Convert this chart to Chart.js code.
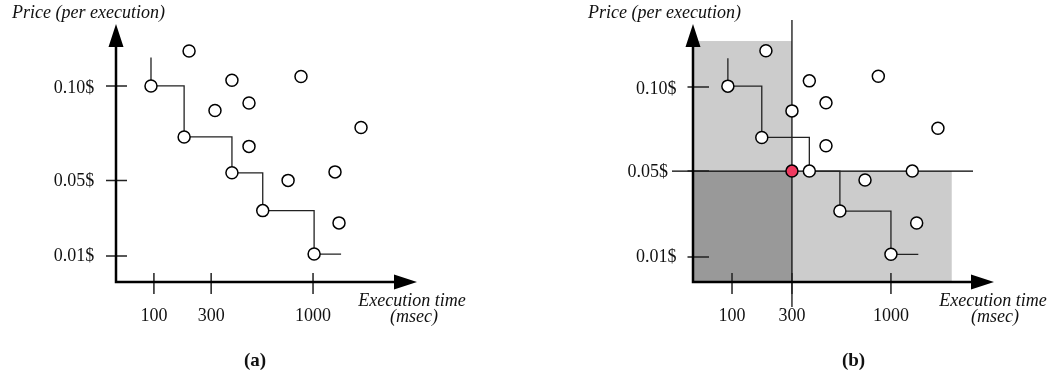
<!DOCTYPE html>
<html>
<head>
<meta charset="utf-8">
<script src="https://cdn.jsdelivr.net/npm/chart.js@4.4.1/dist/chart.umd.min.js"></script>
<style>
  html, body { margin: 0; padding: 0; background: #fff; }
  #wrap { position: relative; width: 1052px; height: 374px; overflow: hidden; }
  canvas { position: absolute; top: 0; }
  #chartA { left: 0; }
  #chartB { left: 577px; }
</style>
</head>
<body>
<div id="wrap">
  <canvas id="chartA" width="577" height="374"></canvas>
  <canvas id="chartB" width="475" height="374"></canvas>
</div>
<script>
// ---------- shared axis text ----------
const xTickValues = [100, 300, 1000];
const xTickLabels = ['100', '300', '1000'];
const yTickValues = [0.10, 0.05, 0.01];
const yTickLabels = ['0.10$', '0.05$', '0.01$'];
const yAxisTitle = 'Price (per execution)';
const xAxisTitle = ['Execution time', '(msec)'];

// ---------- panel (a): all candidate configurations ----------
const timesA  = [208, 405, 892, 318, 505, 1504, 505, 1216, 784, 1258];
const pricesA = [0.1185, 0.103, 0.105, 0.087, 0.091, 0.078, 0.068, 0.0545, 0.050, 0.0275];
// Pareto-optimal configurations (staircase)
const paretoTimesA  = [93, 190, 405, 595, 1010];
const paretoPricesA = [0.100, 0.073, 0.054, 0.034, 0.011];
const stairStartPriceA = 0.115;
const stairEndTimeA = 1280;

// ---------- panel (b): same set, with a chosen deadline / budget ----------
const timesB  = [196, 386, 880, 300, 482, 1538, 482, 1226, 764, 1276];
const pricesB = [0.124, 0.104, 0.107, 0.085, 0.090, 0.0744, 0.0642, 0.050, 0.0452, 0.024];
const paretoTimesB  = [91, 182, 386, 573, 1000];
const paretoPricesB = [0.1006, 0.069, 0.050, 0.0296, 0.011];
const stairStartPriceB = 0.119;
const stairEndTimeB = 1295;
const pickTimes  = [300];
const pickPrices = [0.05];
const shadeTimeLimit  = 1725;
const shadePriceLimit = 0.1306;

// ---------- a power (x^k) axis ----------
class PowerScale extends Chart.LinearScale {
  _pw(v) { return Math.pow(v, this.options.exponent ?? 1); }
  getPixelForValue(value) {
    if (value === null || value === undefined) return NaN;
    const lo = this._pw(this.min), hi = this._pw(this.max);
    return this.getPixelForDecimal((this._pw(value) - lo) / (hi - lo));
  }
  getValueForPixel(pixel) {
    const k = this.options.exponent ?? 1;
    const lo = this._pw(this.min), hi = this._pw(this.max);
    return Math.pow(lo + this.getDecimalForPixel(pixel) * (hi - lo), 1 / k);
  }
}
PowerScale.id = 'power';
PowerScale.defaults = Chart.LinearScale.defaults;
Chart.register(PowerScale);

const FONT = "'Liberation Serif', 'Times New Roman', serif";
const INK = '#111';

// the axes keep exactly the box given by the layout padding
function noScalePadding(s) {
  s.paddingTop = 0; s.paddingBottom = 0; s.paddingLeft = 0; s.paddingRight = 0;
}

// axes with arrow heads, crossing tick marks, shaded regions and captions
const panelDecor = {
  id: 'panelDecor',
  beforeDraw(chart, args, o) {
    if (!o.labelNudge) return;
    const items = chart.scales.y.getLabelItems();
    items.forEach((it, i) => {
      const n = o.labelNudge[i];
      if (n) { it.options.translation[0] += n[0]; it.options.translation[1] += n[1]; }
    });
  },
  beforeDatasetsDraw(chart, args, o) {
    const { ctx, chartArea: ca, scales: { x, y } } = chart;
    ctx.save();
    // shaded regions
    (o.regions || []).forEach(r => {
      const x0 = x.getPixelForValue(r.x[0] ?? x.min), x1 = x.getPixelForValue(r.x[1]);
      const y0 = y.getPixelForValue(r.y[0] ?? y.min), y1 = y.getPixelForValue(r.y[1]);
      ctx.fillStyle = r.color;
      ctx.fillRect(x0, y1, x1 - x0, y0 - y1);
    });
    // thin guide lines through the chosen point
    if (o.guides) {
      const g = o.guides;
      ctx.strokeStyle = '#000';
      ctx.lineWidth = 1.2;
      const gx = x.getPixelForValue(g.time), gy = y.getPixelForValue(g.price);
      ctx.beginPath();
      ctx.moveTo(gx, ca.top + g.vExt[0]); ctx.lineTo(gx, ca.bottom + g.vExt[1]);
      ctx.moveTo(ca.left + g.hExt[0], gy); ctx.lineTo(ca.right + g.hExt[1], gy);
      ctx.stroke();
    }
    // tick marks crossing the axes
    ctx.strokeStyle = '#222';
    ctx.lineWidth = 1.5;
    ctx.beginPath();
    x.ticks.forEach((t, i) => {
      const px = x.getPixelForTick(i);
      ctx.moveTo(px, ca.bottom - o.xTick[0]); ctx.lineTo(px, ca.bottom + o.xTick[1]);
    });
    y.ticks.forEach((t, i) => {
      const py = y.getPixelForTick(i);
      ctx.moveTo(ca.left - o.yTick[0], py); ctx.lineTo(ca.left + o.yTick[1], py);
    });
    ctx.stroke();
    // axis lines with arrow heads
    const aw = 2.5, headLen = 23, headHalf = 7.5;
    ctx.strokeStyle = '#000';
    ctx.fillStyle = '#000';
    ctx.lineWidth = aw;
    ctx.beginPath();
    ctx.moveTo(ca.left, ca.top + headLen - 1);
    ctx.lineTo(ca.left, ca.bottom);
    ctx.lineTo(ca.right - headLen + 1, ca.bottom);
    ctx.stroke();
    ctx.beginPath();
    ctx.moveTo(ca.left, ca.top);
    ctx.lineTo(ca.left - headHalf, ca.top + headLen);
    ctx.lineTo(ca.left + headHalf, ca.top + headLen);
    ctx.closePath();
    ctx.moveTo(ca.right, ca.bottom);
    ctx.lineTo(ca.right - headLen, ca.bottom - headHalf);
    ctx.lineTo(ca.right - headLen, ca.bottom + headHalf);
    ctx.closePath();
    ctx.fill();
    ctx.restore();
  },
  afterDraw(chart, args, o) {
    const { ctx } = chart;
    ctx.save();
    ctx.fillStyle = INK;
    ctx.textBaseline = 'alphabetic';
    ctx.font = `italic 18px ${FONT}`;
    ctx.textAlign = 'left';
    ctx.fillText(yAxisTitle, o.yTitleAt[0], o.yTitleAt[1]);
    ctx.textAlign = 'center';
    xAxisTitle.forEach((line, i) => {
      ctx.fillText(line, o.xTitleAt[i][0], o.xTitleAt[i][1]);
    });
    ctx.font = `bold 19px ${FONT}`;
    ctx.fillText(o.caption, o.captionAt[0], o.captionAt[1]);
    ctx.restore();
  }
};

function pts(xs, ys) { return xs.map((v, i) => ({ x: v, y: ys[i] })); }
function stair(xs, ys, startPrice, endTime) {
  return [{ x: xs[0], y: startPrice }, ...pts(xs, ys), { x: endTime, y: ys[ys.length - 1] }];
}

const circle = {
  pointRadius: 6, pointHoverRadius: 6,
  backgroundColor: '#fff', borderColor: '#000', borderWidth: 1.5,
  showLine: false
};

function buildPanel(id, p) {
  const datasets = [];
  if (p.pick) {
    datasets.push({ label: 'chosen', data: pts(p.pick[0], p.pick[1]), ...circle,
                    backgroundColor: '#ef3a60', order: 0 });
  }
  datasets.push({ label: 'pareto', data: pts(p.paretoTimes, p.paretoPrices), ...circle, order: 1 });
  datasets.push({ label: 'others', data: pts(p.times, p.prices), ...circle, order: 1 });
  datasets.push({ type: 'line', label: 'front', data: stair(p.paretoTimes, p.paretoPrices, p.stairStart, p.stairEnd),
                  stepped: true, borderColor: '#222', borderWidth: 1.3, pointRadius: 0, fill: false, order: 2 });

  const tickFont = { family: FONT, size: 18 };
  return new Chart(document.getElementById(id), {
    type: 'scatter',
    data: { datasets },
    options: {
      responsive: false,
      devicePixelRatio: 1,
      animation: false,
      events: [],
      layout: { autoPadding: false, padding: { left: 0, top: 24, right: p.padRight, bottom: 52 } },
      plugins: {
        legend: { display: false },
        tooltip: { enabled: false },
        panelDecor: p.decor
      },
      scales: {
        x: {
          type: 'power', exponent: p.xAxis.exponent, min: p.xAxis.min, max: p.xAxis.max, bounds: 'data',
          grid: { display: false, drawTicks: false }, border: { display: false },
          afterBuildTicks: s => { s.ticks = xTickValues.map(v => ({ value: v })); },
          afterFit: s => { s.height = 40; noScalePadding(s); },
          ticks: { autoSkip: false, maxRotation: 0, padding: 23, color: INK, font: tickFont,
                   callback: (v, i) => xTickLabels[i] }
        },
        y: {
          type: 'power', exponent: p.yAxis.exponent, min: p.yAxis.min, max: p.yAxis.max, bounds: 'data',
          grid: { display: false, drawTicks: false }, border: { display: false },
          afterBuildTicks: s => { s.ticks = yTickValues.map(v => ({ value: v })); },
          afterFit: s => { s.width = 116; noScalePadding(s); },
          ticks: { autoSkip: false, padding: p.yAxis.labelGap, color: INK, font: tickFont,
                   callback: (v, i) => yTickLabels[i] }
        }
      }
    },
    plugins: [panelDecor]
  });
}

buildPanel('chartA', {
  times: timesA, prices: pricesA,
  paretoTimes: paretoTimesA, paretoPrices: paretoPricesA,
  stairStart: stairStartPriceA, stairEnd: stairEndTimeA,
  padRight: 160,
  xAxis: { exponent: 0.42, min: 31, max: 2247 },
  yAxis: { exponent: 1, min: -0.0038, max: 0.1328, labelGap: 21.7 },
  decor: {
    xTick: [9, 12], yTick: [10, 11],
    labelNudge: [[0, 2], [0, 1], [0, 0]],
    yTitleAt: [12, 18],
    xTitleAt: [[412, 306], [414, 322]],
    caption: '(a)', captionAt: [255, 366]
  }
});

buildPanel('chartB', {
  times: timesB, prices: pricesB,
  paretoTimes: paretoTimesB, paretoPrices: paretoPricesB,
  stairStart: stairStartPriceB, stairEnd: stairEndTimeB,
  pick: [pickTimes, pickPrices],
  padRight: 58,
  xAxis: { exponent: 0.355, min: 35.1, max: 2388 },
  yAxis: { exponent: 0.755, min: 0.00213, max: 0.1424, labelGap: 16.6 },
  decor: {
    xTick: [9, 12], yTick: [5.5, 16],
    labelNudge: [[0, 2], [-8.4, 1], [0, 0]],
    regions: [
      { x: [null, pickTimes[0]], y: [pickPrices[0], shadePriceLimit], color: '#cccccc' },
      { x: [pickTimes[0], shadeTimeLimit], y: [null, pickPrices[0]], color: '#cccccc' },
      { x: [null, pickTimes[0]], y: [null, pickPrices[0]], color: '#999999' }
    ],
    guides: { time: pickTimes[0], price: pickPrices[0], vExt: [-4, 25], hExt: [-21, -21] },
    yTitleAt: [11, 18],
    xTitleAt: [[416, 306], [418, 322]],
    caption: '(b)', captionAt: [276.5, 366]
  }
});
</script>
</body>
</html>
